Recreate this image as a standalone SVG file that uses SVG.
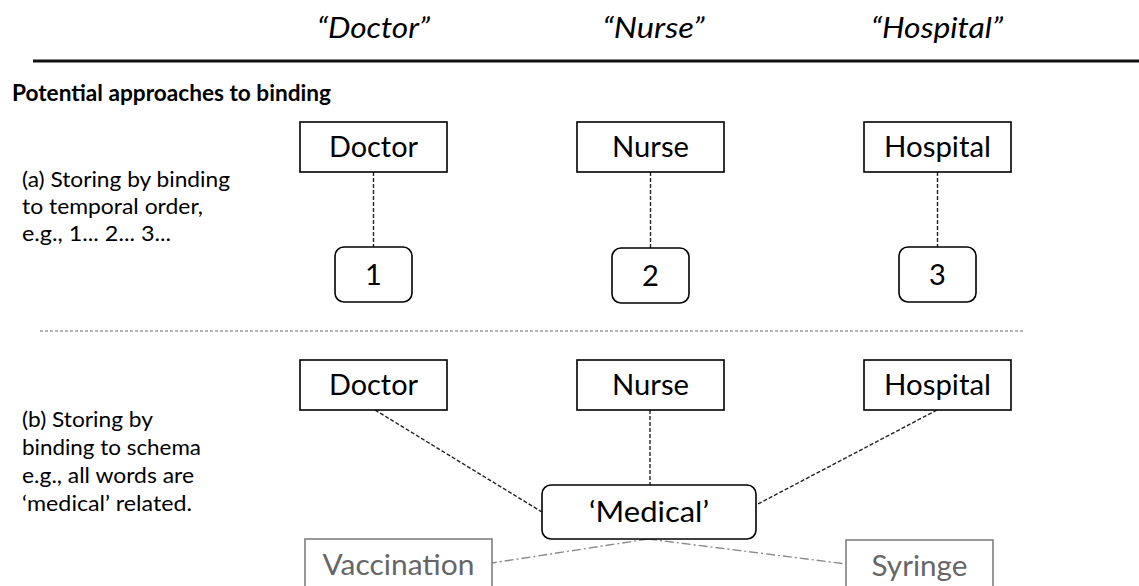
<svg xmlns="http://www.w3.org/2000/svg" width="1139" height="586" viewBox="0 0 1139 586">
  <style>
    text { font-family: Lato, "Open Sans", "Liberation Sans", sans-serif; fill: #000; }
    .hdr { font-size: 29px; font-style: italic; text-anchor: middle; }
    .title { font-size: 22px; font-weight: bold; }
    .note { font-size: 22px; }
    .lbl { font-size: 29px; text-anchor: middle; }
    .box { fill: #fff; stroke: #000; stroke-width: 1.6; }
    .gbox { fill: #fff; stroke: #7f7f7f; stroke-width: 1.6; }
    .glbl { font-size: 29px; text-anchor: middle; fill: #666; }
    .dash { fill: none; stroke: #222; stroke-width: 1.4; stroke-dasharray: 4 2; }
    .dashdot { fill: none; stroke: #8a8a8a; stroke-width: 1.4; stroke-dasharray: 9 3 2 3; }
  </style>

  <!-- column headings -->
  <g id="headings">
    <text class="hdr" x="373.5" y="38" textLength="113" lengthAdjust="spacingAndGlyphs">“Doctor”</text>
    <text class="hdr" x="653.5" y="38" textLength="102" lengthAdjust="spacingAndGlyphs">“Nurse”</text>
    <text class="hdr" x="937" y="38" textLength="132" lengthAdjust="spacingAndGlyphs">“Hospital”</text>
    <line x1="33" y1="61" x2="1139" y2="61" stroke="#111" stroke-width="3"/>
  </g>

  <text id="title" class="title" x="12" y="101" textLength="319" lengthAdjust="spacingAndGlyphs">Potential approaches to binding</text>

  <!-- side notes -->
  <g id="note-a">
    <text class="note" x="22" y="187" textLength="208" lengthAdjust="spacingAndGlyphs">(a) Storing by binding</text>
    <text class="note" x="22" y="214" textLength="181" lengthAdjust="spacingAndGlyphs">to temporal order,</text>
    <text class="note" x="22" y="241" textLength="149" lengthAdjust="spacingAndGlyphs">e.g., 1... 2... 3...</text>
  </g>
  <g id="note-b">
    <text class="note" x="22" y="427" textLength="131" lengthAdjust="spacingAndGlyphs">(b) Storing by</text>
    <text class="note" x="22" y="455" textLength="179" lengthAdjust="spacingAndGlyphs">binding to schema</text>
    <text class="note" x="22" y="483" textLength="172" lengthAdjust="spacingAndGlyphs">e.g., all words are</text>
    <text class="note" x="22" y="511" textLength="170" lengthAdjust="spacingAndGlyphs">‘medical’ related.</text>
  </g>

  <!-- divider between the two approaches -->
  <line x1="40" y1="331" x2="1025" y2="331" stroke="#666" stroke-width="1" stroke-dasharray="3 2"/>

  <!-- connectors -->
  <g id="connectors">
    <line class="dash" x1="373.5" y1="172" x2="373.5" y2="247"/>
    <line class="dash" x1="650.5" y1="172" x2="650.5" y2="248"/>
    <line class="dash" x1="937.5" y1="172" x2="937.5" y2="247"/>
    <line class="dash" x1="375" y1="410" x2="542" y2="512"/>
    <line class="dash" x1="650" y1="410" x2="650" y2="485"/>
    <line class="dash" x1="937" y1="410" x2="756" y2="505"/>
    <line class="dashdot" x1="648" y1="539" x2="492" y2="563"/>
    <line class="dashdot" x1="648" y1="539" x2="846" y2="564"/>
  </g>

  <!-- (a) temporal order -->
  <g id="a-doctor">
    <rect class="box" x="300" y="122" width="147" height="50"/>
    <text class="lbl" x="373.5" y="157" textLength="89" lengthAdjust="spacingAndGlyphs">Doctor</text>
  </g>
  <g id="a-nurse">
    <rect class="box" x="577" y="122" width="147" height="50"/>
    <text class="lbl" x="650.5" y="157" textLength="77" lengthAdjust="spacingAndGlyphs">Nurse</text>
  </g>
  <g id="a-hospital">
    <rect class="box" x="864" y="122" width="147" height="50"/>
    <text class="lbl" x="937.5" y="157" textLength="107" lengthAdjust="spacingAndGlyphs">Hospital</text>
  </g>
  <g id="a-one">
    <rect class="box" x="335" y="247" width="77" height="55" rx="9"/>
    <text class="lbl" x="373.5" y="285">1</text>
  </g>
  <g id="a-two">
    <rect class="box" x="612" y="248" width="77" height="55" rx="9"/>
    <text class="lbl" x="650.5" y="286">2</text>
  </g>
  <g id="a-three">
    <rect class="box" x="899" y="247" width="77" height="55" rx="9"/>
    <text class="lbl" x="937.5" y="285">3</text>
  </g>

  <!-- (b) schema -->
  <g id="b-doctor">
    <rect class="box" x="300" y="360" width="147" height="50"/>
    <text class="lbl" x="373.5" y="395" textLength="89" lengthAdjust="spacingAndGlyphs">Doctor</text>
  </g>
  <g id="b-nurse">
    <rect class="box" x="577" y="360" width="147" height="50"/>
    <text class="lbl" x="650.5" y="395" textLength="77" lengthAdjust="spacingAndGlyphs">Nurse</text>
  </g>
  <g id="b-hospital">
    <rect class="box" x="864" y="360" width="147" height="50"/>
    <text class="lbl" x="937.5" y="395" textLength="107" lengthAdjust="spacingAndGlyphs">Hospital</text>
  </g>
  <g id="b-medical">
    <rect class="box" x="542" y="485" width="214" height="54" rx="9"/>
    <text class="lbl" x="649" y="522" textLength="120" lengthAdjust="spacingAndGlyphs">‘Medical’</text>
  </g>
  <g id="b-vaccination">
    <rect class="gbox" x="305" y="539" width="187" height="52"/>
    <text class="glbl" x="398.5" y="575" textLength="152" lengthAdjust="spacingAndGlyphs">Vaccination</text>
  </g>
  <g id="b-syringe">
    <rect class="gbox" x="846" y="540" width="147" height="52"/>
    <text class="glbl" x="919.5" y="576" textLength="96" lengthAdjust="spacingAndGlyphs">Syringe</text>
  </g>
</svg>
